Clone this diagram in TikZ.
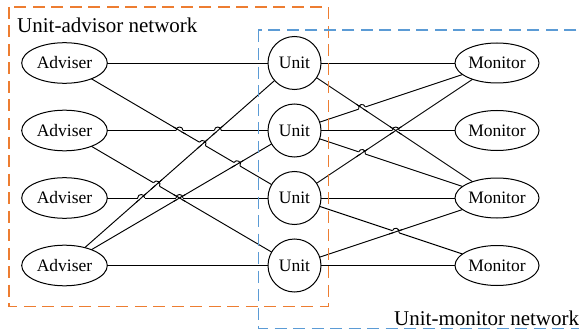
\documentclass[tikz,border=0pt]{standalone}
\usepackage{fontspec}
\setmainfont{Liberation Serif}
\usetikzlibrary{shapes.geometric,calc,intersections}
\definecolor{boxorange}{HTML}{ED7D31}
\definecolor{boxblue}{HTML}{5B9BD5}

% jump of line #1--#2 over line #3--#4 (and further crossing lines #5)
\newcommand{\linehop}[5]{%
  \path[name intersections={of=#1#2 and #3#4,by=hp}];
  \draw[white,line width=3pt] ($(hp)!3.5pt!(#1.center)$) -- ($(hp)!3.5pt!(#2.center)$);
  \foreach \p/\q in {#3/#4#5} \draw[link] ($(hp)!7pt!(\p.center)$) -- ($(hp)!7pt!(\q.center)$);
  \draw[link] ($(hp)!3.5pt!(#1.center)$) to[bend left=90,looseness=1.7] ($(hp)!3.5pt!(#2.center)$);}

\begin{document}
\begin{tikzpicture}[x=1pt,y=-1pt,
  every node/.style={font=\fontsize{17.5}{20}\selectfont},
  adviser/.style={draw,ellipse,line width=1pt,inner sep=0pt,outer sep=0pt,minimum width=85.6pt,minimum height=40.6pt},
  monitor/.style={adviser,minimum width=84pt,minimum height=40pt},
  unit/.style={draw,circle,line width=1pt,inner sep=0pt,outer sep=0pt,minimum size=53pt},
  link/.style={line width=0.95pt},
  netbox/.style={dash pattern=on 12pt off 6.5pt,line width=1.4pt},
  netlabel/.style={font=\fontsize{21}{24}\selectfont,inner sep=0pt,anchor=base west}]
  \useasboundingbox (0,0) rectangle (579,329);
  % three columns of four nodes
  \foreach \i/\y in {1/63,2/130.5,3/198,4/265.5} {
    \node[adviser] (a\i) at (64.5,\y) {Adviser};
    \node[unit] (u\i) at (294.5,\y) {Unit};
    \node[monitor] (m\i) at (497,\y) {Monitor};
  }
  % connections
  \foreach \s/\t in {a1/u1,a1/u3,a2/u2,a2/u4,a3/u3,a4/u4,a4/u1,a4/u2,
                     u1/m1,u1/m3,u2/m1,u2/m2,u2/m3,u3/m1,u3/m3,u3/m4,u4/m3,u4/m4}
    \draw[link,name path global=\s\t] (\s) -- (\t);
  % line jumps
  \linehop{a2}{u2}{a1}{u3}{}
  \linehop{a2}{u2}{a4}{u1}{}
  \linehop{a1}{u3}{a4}{u1}{}
  \linehop{a1}{u3}{a4}{u2}{}
  \linehop{a2}{u4}{a4}{u1}{}
  \linehop{a3}{u3}{a4}{u1}{}
  \linehop{a3}{u3}{a2}{u4}{,a4/u2}
  \linehop{u2}{m1}{u1}{m3}{}
  \linehop{u2}{m2}{u1}{m3}{,u3/m1}
  \linehop{u2}{m3}{u3}{m1}{}
  \linehop{u3}{m4}{u4}{m3}{}
  % network boxes
  \draw[netbox,boxorange] (9,7) rectangle (328.3,306.7);
  \begin{scope}
    \clip (0,0) rectangle (579,329);
    \draw[netbox,boxblue] (258.3,30) rectangle (600,328.3);
  \end{scope}
  \node[netlabel] (advnet) at (17,33) {Unit-advisor network};
  \node[netlabel] (monnet) at (394,325) {Unit-monitor network};
\end{tikzpicture}
\end{document}
